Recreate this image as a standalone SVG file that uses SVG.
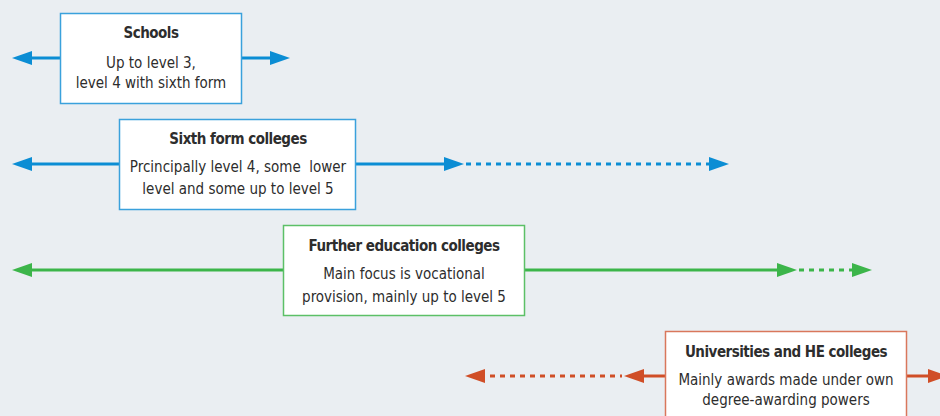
<svg xmlns="http://www.w3.org/2000/svg" width="940" height="416" viewBox="0 0 940 416">
<style>
.bg{fill:#eaeef2}
.box{fill:#ffffff;stroke-width:1.5}
.t{font-family:"DejaVu Sans Condensed","DejaVu Sans",sans-serif;font-size:15px;fill:#2d2d2d;text-anchor:middle}
.b{font-weight:bold;letter-spacing:-0.5px}
.ln{fill:none;stroke-width:3}
.dot{stroke-dasharray:5 5}
.blue{stroke:#0b8dd4}.blueF{fill:#0b8dd4}
.green{stroke:#3cb54a}.greenF{fill:#3cb54a}
.red{stroke:#d04e27}.redF{fill:#d04e27}
</style>
<defs>
<path id="ahR" d="M0,0 L-20,-7 L-20,7 Z"/>
<path id="ahL" d="M0,0 L20,-7 L20,7 Z"/>
</defs>
<rect class="bg" x="0" y="0" width="940" height="416"/>
<g id="connectors">
<line class="ln blue" x1="22" y1="58" x2="60" y2="58"/>
<use href="#ahL" x="12" y="58" class="blueF"/>
<line class="ln blue" x1="242" y1="58" x2="275" y2="58"/>
<use href="#ahR" x="290" y="58" class="blueF"/>
<line class="ln blue" x1="22" y1="164" x2="119" y2="164"/>
<use href="#ahL" x="12" y="164" class="blueF"/>
<line class="ln blue" x1="356" y1="164" x2="450" y2="164"/>
<use href="#ahR" x="464" y="164" class="blueF"/>
<line class="ln blue dot" x1="466" y1="164" x2="712" y2="164"/>
<use href="#ahR" x="729" y="164" class="blueF"/>
<line class="ln green" x1="22" y1="270" x2="283" y2="270"/>
<use href="#ahL" x="12" y="270" class="greenF"/>
<line class="ln green" x1="525" y1="270" x2="782" y2="270"/>
<use href="#ahR" x="797" y="270" class="greenF"/>
<line class="ln green dot" x1="799" y1="270" x2="856" y2="270"/>
<use href="#ahR" x="872" y="270" class="greenF"/>
<line class="ln red" x1="635" y1="376" x2="665" y2="376"/>
<use href="#ahL" x="624" y="376" class="redF"/>
<line class="ln red dot" x1="480" y1="376" x2="622" y2="376"/>
<use href="#ahL" x="465" y="376" class="redF"/>
<line class="ln red" x1="907" y1="376" x2="932" y2="376"/>
<use href="#ahR" x="948" y="376" class="redF"/>
</g>
<g id="schools">
<rect class="box" x="60.5" y="13.5" width="181" height="90" stroke="#3aa1dc"/>
<text class="t b" x="151" y="38">Schools</text>
<text class="t" x="151" y="68">Up to level 3,</text>
<text class="t" x="151" y="88">level 4 with sixth form</text>
</g>
<g id="sixth-form">
<rect class="box" x="119.5" y="119.5" width="236" height="90" stroke="#3aa1dc"/>
<text class="t b" x="238" y="144">Sixth form colleges</text>
<text class="t" x="238" y="172" xml:space="preserve">Prcincipally level 4, some  lower</text>
<text class="t" x="238" y="194">level and some up to level 5</text>
</g>
<g id="further-education">
<rect class="box" x="283.5" y="225.5" width="241" height="90" stroke="#5cc067"/>
<text class="t b" x="404" y="251">Further education colleges</text>
<text class="t" x="404" y="279">Main focus is vocational</text>
<text class="t" x="404" y="302">provision, mainly up to level 5</text>
</g>
<g id="universities">
<rect class="box" x="665.5" y="331.5" width="241" height="100" stroke="#d9775c"/>
<text class="t b" x="786" y="357">Universities and HE colleges</text>
<text class="t" x="786" y="385">Mainly awards made under own</text>
<text class="t" x="786" y="405">degree-awarding powers</text>
</g>
</svg>
